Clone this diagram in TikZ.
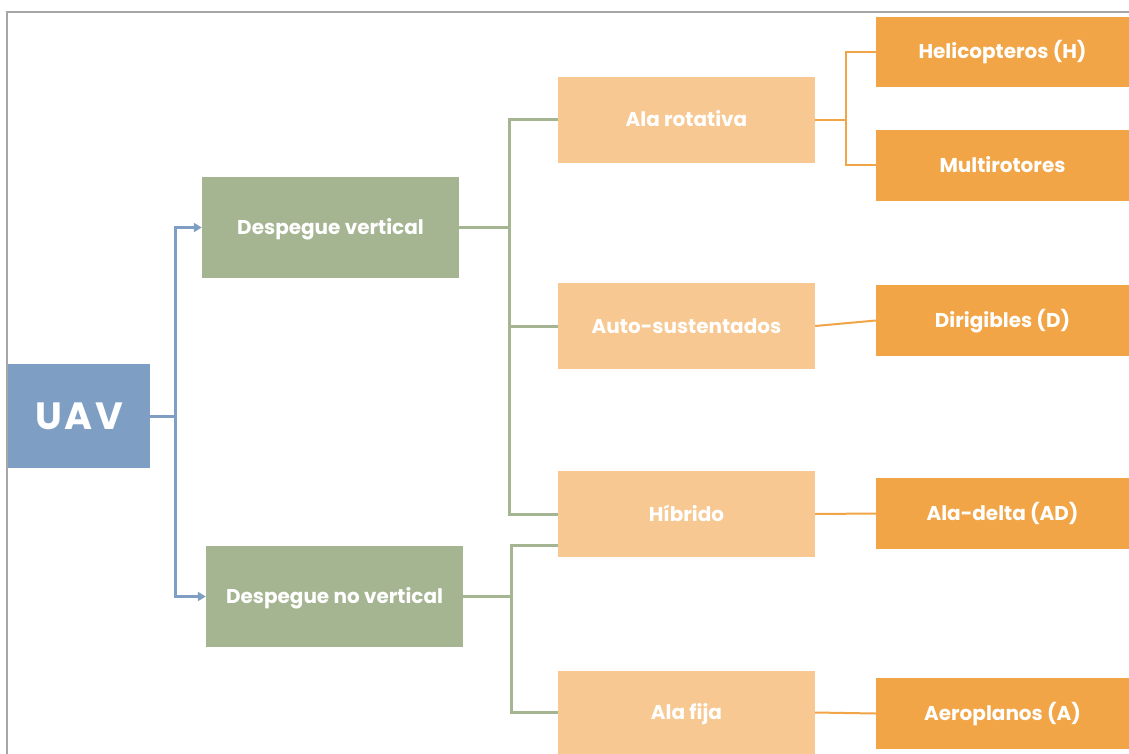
\documentclass[tikz,border=0pt]{standalone}
\usepackage{fontspec}
\setmainfont{Poppins}
\usetikzlibrary{arrows.meta}
\definecolor{cblue}{HTML}{7F9EC4}
\definecolor{cgreen}{HTML}{A5B592}
\definecolor{clight}{HTML}{F7C891}
\definecolor{corange}{HTML}{F2A547}
\definecolor{cframe}{HTML}{A6A6A6}
\tikzset{
  box/.style={draw=none, inner sep=0pt, text=white, font=\bfseries\fontsize{20}{24}\selectfont, text height=14pt, text depth=0pt},
  uavbox/.style={box, fill=cblue},
  lvone/.style={box, fill=cgreen, minimum width=257pt, minimum height=101pt},
  lvtwo/.style={box, fill=clight, minimum width=257pt, minimum height=86pt},
  lvthree/.style={box, fill=corange, minimum width=253pt, minimum height=71pt},
  bline/.style={draw=cblue, line width=3pt},
  barrow/.style={bline, -{Triangle[length=8pt,width=9pt]}},
  gline/.style={draw=cgreen, line width=3pt},
  oline/.style={draw=corange, line width=2pt},
}
\begin{document}
\begin{tikzpicture}[x=1pt,y=-1pt]
\useasboundingbox (0,0) rectangle (1129,754);
\draw[cframe, line width=2pt] (6.5,754) -- (6.5,12.5) -- (1129,12.5);
% nodes
\node[uavbox, minimum width=142pt, minimum height=104pt, font=\bfseries\fontsize{38}{42}\selectfont, text height=27pt] (uav) at (79,416) {U\kern2.5pt A\kern2.5pt V};
\node[lvone] (dv) at (330.5,227.5) {Despegue vertical};
\node[lvone] (dnv) at (334.5,596.5) {Despegue no vertical};
\node[lvtwo] (ar) at (686.5,120) {Ala rotativa};
\node[lvtwo] (as) at (686.5,326) {Auto-sustentados};
\node[lvtwo] (hi) at (686.5,514) {Híbrido};
\node[lvtwo, minimum height=83pt] (af) at (686.5,712.5) {Ala fija};
\node[lvthree, minimum height=70pt] (he) at (1002.5,52) {Helicopteros (H)};
\node[lvthree] (mu) at (1002.5,165.5) {Multirotores};
\node[lvthree] (di) at (1002.5,320.5) {Dirigibles (D)};
\node[lvthree] (ad) at (1002.5,513.5) {Ala-delta (AD)};
\node[lvthree] (ae) at (1002.5,713.5) {Aeroplanos (A)};
% junction coordinates
\coordinate (jb) at (175,416);
\coordinate (jv) at (509,227.5);
\coordinate (jn) at (511,596.5);
\coordinate (jo) at (846,120);
\coordinate (hiup) at (558,545);
% blue connectors
\draw[bline] (uav.east) -- (jb);
\draw[barrow] (jb) |- (dv.west);
\draw[barrow] (jb) |- (dnv.west);
% green connectors
\draw[gline] (dv.east) -- (jv);
\draw[gline] (ar.west) -| (jv) |- (hi.west);
\draw[gline] (as.west) -- (as.west -| jv);
\draw[gline] (dnv.east) -- (jn);
\draw[gline] (hiup) -| (jn) |- (af.west);
% orange connectors
\draw[oline] (ar.east) -- (jo);
\draw[oline] (he.west) -| (jo) |- (mu.west);
\draw[oline] (as.east) -- (di.west);
\draw[oline] (hi.east) -- (ad.west);
\draw[oline] (af.east) -- (ae.west);
\end{tikzpicture}
\end{document}
